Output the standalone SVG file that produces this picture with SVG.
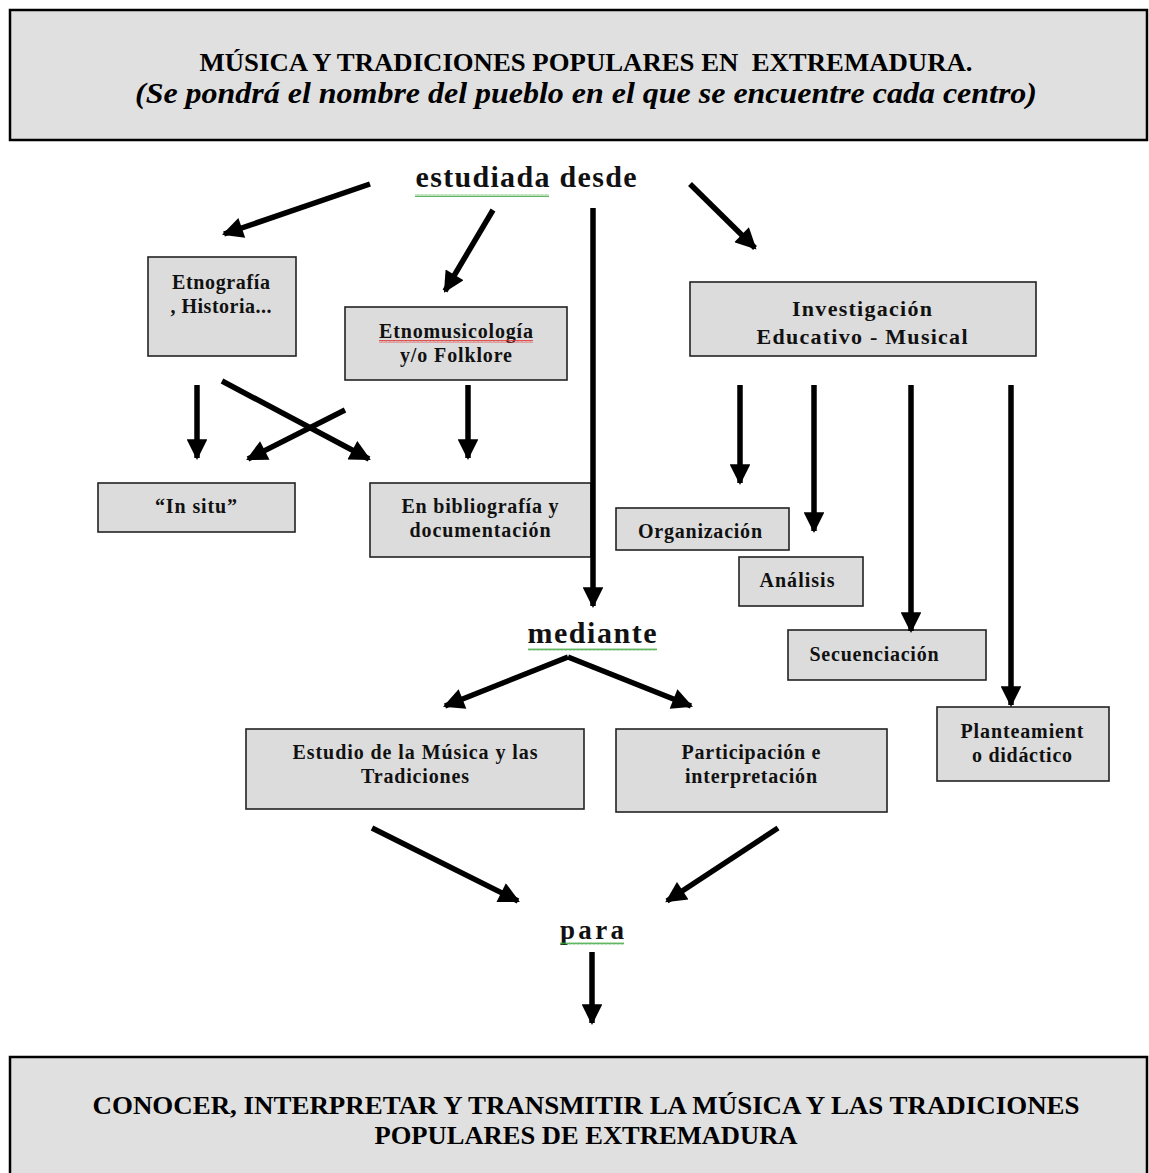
<svg xmlns="http://www.w3.org/2000/svg" width="1149" height="1173" viewBox="0 0 1149 1173">
<defs>
  <marker id="ah" viewBox="0 0 10 10" refX="9" refY="5" markerWidth="4" markerHeight="3.8" markerUnits="strokeWidth" orient="auto">
    <path d="M0,0 L10,5 L0,10 z" fill="#000"/>
  </marker>
  <pattern id="sqg" width="4" height="3" patternUnits="userSpaceOnUse">
    <path d="M0,2.5 L1,0.5 L2,2.5 L3,0.5 L4,2.5" fill="none" stroke="#3aa53a" stroke-width="0.8"/>
  </pattern>
  <pattern id="sqr" width="4" height="3" patternUnits="userSpaceOnUse">
    <path d="M0,2.5 L1,0.5 L2,2.5 L3,0.5 L4,2.5" fill="none" stroke="#e03030" stroke-width="0.8"/>
  </pattern>
</defs>
<style>
  .big { fill: #e0e0e0; stroke: #000; stroke-width: 2.5; }
  .box { fill: #dcdcdc; stroke: #222; stroke-width: 1.6; }
  .hd { font-family: "Liberation Serif", "Times New Roman", serif; font-weight: bold; font-size: 25px; fill: #000; text-anchor: middle; }
  .hdi { font-family: "Liberation Serif", "Times New Roman", serif; font-weight: bold; font-style: italic; font-size: 29px; fill: #000; text-anchor: middle; }
  .lbl { font-family: "Liberation Serif", "Times New Roman", serif; font-weight: bold; font-size: 20px; fill: #111; text-anchor: middle; }
  .lbl2 { font-family: "Liberation Serif", "Times New Roman", serif; font-weight: bold; font-size: 22px; fill: #111; text-anchor: middle; }
  .conn { font-family: "Liberation Serif", "Times New Roman", serif; font-weight: bold; font-size: 30px; fill: #111; text-anchor: middle; }
  .arr { stroke: #000; stroke-width: 5.5; fill: none; marker-end: url(#ah); }
</style>
<rect width="1149" height="1173" fill="#fff"/>

<g id="title">
  <rect class="big" x="10" y="10" width="1137" height="130"/>
  <text class="hd" x="586" y="71" textLength="773" lengthAdjust="spacingAndGlyphs" xml:space="preserve">MÚSICA Y TRADICIONES POPULARES EN  EXTREMADURA.</text>
  <text class="hdi" x="586" y="103" textLength="902" lengthAdjust="spacingAndGlyphs">(Se pondrá el nombre del pueblo en el que se encuentre cada centro)</text>
</g>

<g id="estudiada">
  <text class="conn" x="526" y="187" textLength="221" lengthAdjust="spacing">estudiada desde</text>
  <rect x="415" y="194" width="134" height="3" fill="url(#sqg)"/>
</g>

<g id="etnografia">
  <rect class="box" x="148" y="257" width="148" height="99"/>
  <text class="lbl" x="221" y="289" textLength="98" lengthAdjust="spacing">Etnografía</text>
  <text class="lbl" x="221" y="313" textLength="101" lengthAdjust="spacing">, Historia...</text>
</g>

<g id="etnomusicologia">
  <rect class="box" x="345" y="307" width="222" height="73"/>
  <text class="lbl" x="456" y="338" textLength="154" lengthAdjust="spacing">Etnomusicología</text>
  <rect x="379" y="340" width="154" height="3" fill="url(#sqr)"/>
  <text class="lbl" x="456" y="362" textLength="112" lengthAdjust="spacing">y/o Folklore</text>
</g>

<g id="investigacion">
  <rect class="box" x="690" y="282" width="346" height="74"/>
  <text class="lbl2" x="862" y="316" textLength="140" lengthAdjust="spacing">Investigación</text>
  <text class="lbl2" x="862" y="344" textLength="211" lengthAdjust="spacing">Educativo - Musical</text>
</g>

<g id="insitu">
  <rect class="box" x="98" y="483" width="197" height="49"/>
  <text class="lbl" x="196" y="513" textLength="82" lengthAdjust="spacing">“In situ”</text>
</g>

<g id="bibliografia">
  <rect class="box" x="370" y="483" width="221" height="74"/>
  <text class="lbl" x="480" y="513" textLength="157" lengthAdjust="spacing">En bibliografía y</text>
  <text class="lbl" x="480" y="537" textLength="141" lengthAdjust="spacing">documentación</text>
</g>

<g id="organizacion">
  <rect class="box" x="616" y="508" width="173" height="42"/>
  <text class="lbl" x="700" y="538" textLength="124" lengthAdjust="spacing">Organización</text>
</g>

<g id="analisis">
  <rect class="box" x="739" y="557" width="124" height="49"/>
  <text class="lbl" x="797" y="587" textLength="75" lengthAdjust="spacing">Análisis</text>
</g>

<g id="secuenciacion">
  <rect class="box" x="788" y="630" width="198" height="50"/>
  <text class="lbl" x="874" y="661" textLength="129" lengthAdjust="spacing">Secuenciación</text>
</g>

<g id="planteamiento">
  <rect class="box" x="937" y="707" width="172" height="74"/>
  <text class="lbl" x="1022" y="738" textLength="123" lengthAdjust="spacing">Planteamient</text>
  <text class="lbl" x="1022" y="762" textLength="100" lengthAdjust="spacing">o didáctico</text>
</g>

<g id="mediante">
  <text class="conn" x="592" y="643" textLength="129" lengthAdjust="spacing">mediante</text>
  <rect x="528" y="648" width="129" height="3" fill="url(#sqg)"/>
</g>

<g id="estudio">
  <rect class="box" x="246" y="729" width="338" height="80"/>
  <text class="lbl" x="415" y="759" textLength="245" lengthAdjust="spacing">Estudio de la Música y las</text>
  <text class="lbl" x="415" y="783" textLength="108" lengthAdjust="spacing">Tradiciones</text>
</g>

<g id="participacion">
  <rect class="box" x="616" y="729" width="271" height="83"/>
  <text class="lbl" x="751" y="759" textLength="139" lengthAdjust="spacing">Participación e</text>
  <text class="lbl" x="751" y="783" textLength="132" lengthAdjust="spacing">interpretación</text>
</g>

<g id="para">
  <text class="conn" x="592" y="939" style="font-size:27px" textLength="64" lengthAdjust="spacing">para</text>
  <rect x="560" y="942" width="64" height="3" fill="url(#sqg)"/>
</g>

<g id="conclusion">
  <rect class="big" x="10" y="1057" width="1137" height="130"/>
  <text class="hd" x="586" y="1114" textLength="987" lengthAdjust="spacingAndGlyphs">CONOCER, INTERPRETAR Y TRANSMITIR LA MÚSICA Y LAS TRADICIONES</text>
  <text class="hd" x="586" y="1144" textLength="423" lengthAdjust="spacingAndGlyphs">POPULARES DE EXTREMADURA</text>
</g>

<g id="connectors">
  <line class="arr" x1="370" y1="184" x2="224" y2="234"/>
  <line class="arr" x1="493" y1="210" x2="445" y2="291"/>
  <line class="arr" x1="593" y1="208" x2="593" y2="606"/>
  <line class="arr" x1="690" y1="184" x2="755" y2="248"/>
  <line class="arr" x1="197" y1="385" x2="197" y2="458"/>
  <line class="arr" x1="222" y1="381" x2="369" y2="459"/>
  <line class="arr" x1="345" y1="410" x2="248" y2="459"/>
  <line class="arr" x1="468" y1="385" x2="468" y2="458"/>
  <line class="arr" x1="740" y1="385" x2="740" y2="483"/>
  <line class="arr" x1="814" y1="385" x2="814" y2="531"/>
  <line class="arr" x1="911" y1="385" x2="911" y2="631"/>
  <line class="arr" x1="1011" y1="385" x2="1011" y2="705"/>
  <line class="arr" x1="568" y1="657" x2="445" y2="706"/>
  <line class="arr" x1="568" y1="657" x2="691" y2="706"/>
  <line class="arr" x1="372" y1="828" x2="518" y2="901"/>
  <line class="arr" x1="778" y1="828" x2="667" y2="901"/>
  <line class="arr" x1="592" y1="952" x2="592" y2="1023"/>
</g>
</svg>
